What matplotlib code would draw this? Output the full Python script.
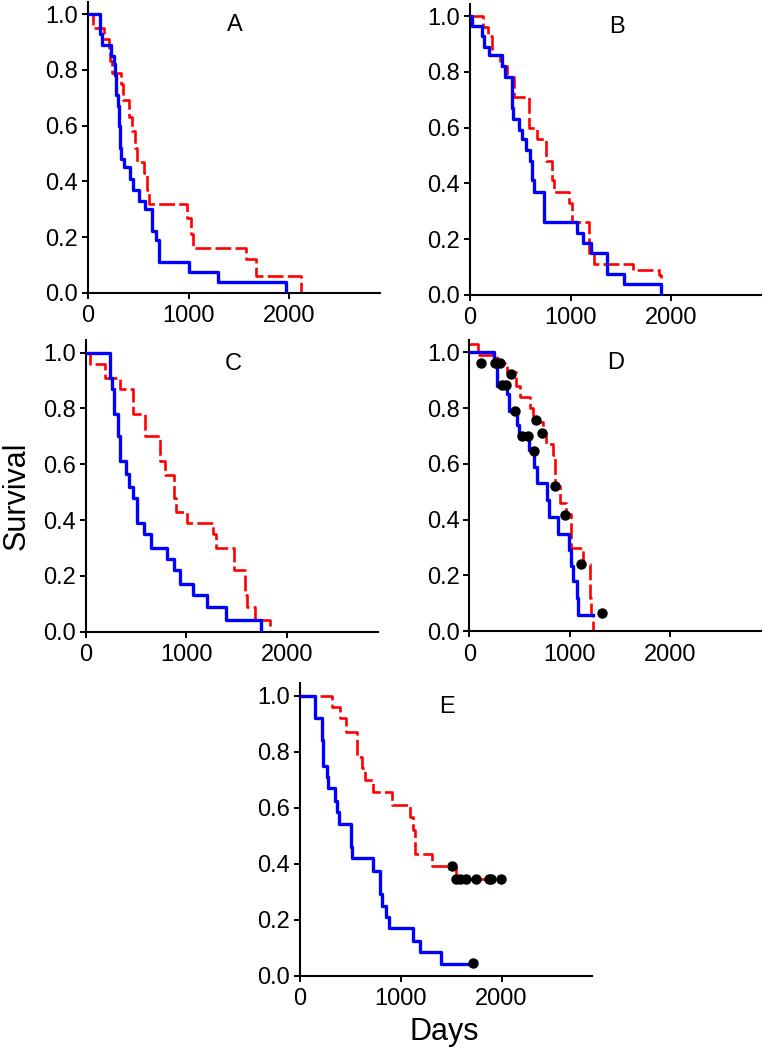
import matplotlib
matplotlib.use("Agg")
import matplotlib.pyplot as plt

plt.rcParams["font.family"] = ["Liberation Sans", "DejaVu Sans"]

# ── Data (days, survival fraction) ────────────────────────────────────────────

A_blue_t = [0, 117, 143, 230, 257, 267, 283, 297, 310, 323, 333, 357, 423, 450, 513,
            567, 633, 680, 707, 1000, 1290, 1963]
A_blue_s = [1.0, 0.93, 0.89, 0.85, 0.82, 0.78, 0.71, 0.67, 0.60, 0.52, 0.48, 0.45, 0.41,
            0.37, 0.33, 0.30, 0.22, 0.19, 0.11, 0.074, 0.037, 0.0]
A_red_t = [0, 57, 157, 207, 223, 240, 333, 350, 407, 440, 473, 490, 557, 590, 607, 983,
           1023, 1047, 1573, 1673, 2117]
A_red_s = [1.0, 0.95, 0.91, 0.87, 0.83, 0.79, 0.75, 0.69, 0.63, 0.58, 0.52, 0.47, 0.43,
           0.37, 0.32, 0.27, 0.21, 0.16, 0.12, 0.06, 0.0]

B_blue_t = [0, 23, 123, 143, 190, 317, 350, 417, 427, 483, 517, 560, 593, 617, 633, 740,
            1060, 1127, 1207, 1367, 1533, 1900]
B_blue_s = [1.0, 0.965, 0.93, 0.89, 0.86, 0.82, 0.78, 0.67, 0.63, 0.59, 0.56, 0.52, 0.48,
            0.41, 0.37, 0.26, 0.22, 0.185, 0.15, 0.074, 0.037, 0.0]
B_red_t = [0, 133, 183, 217, 300, 367, 433, 585, 667, 760, 817, 833, 983, 1017, 1183,
           1233, 1617, 1883, 1900]
B_red_s = [1.0, 0.96, 0.93, 0.86, 0.82, 0.78, 0.71, 0.60, 0.56, 0.48, 0.41, 0.37, 0.33,
           0.26, 0.15, 0.11, 0.09, 0.07, 0.06]

C_blue_t = [0, 243, 260, 283, 317, 337, 403, 430, 470, 510, 577, 650, 803, 877, 933, 1067,
            1200, 1393, 1737]
C_blue_s = [1.0, 0.91, 0.87, 0.78, 0.70, 0.61, 0.565, 0.52, 0.48, 0.39, 0.35, 0.30, 0.26,
            0.22, 0.17, 0.13, 0.087, 0.043, 0.0]
C_red_t = [0, 43, 193, 343, 470, 593, 737, 783, 877, 893, 1010, 1260, 1293, 1470, 1577,
           1600, 1677, 1827]
C_red_s = [1.0, 0.96, 0.91, 0.87, 0.78, 0.70, 0.61, 0.56, 0.48, 0.43, 0.39, 0.35, 0.30,
           0.22, 0.13, 0.087, 0.043, 0.0]

D_blue_t = [0, 245, 278, 371, 394, 477, 497, 596, 646, 675, 775, 795, 884, 993, 1010,
            1033, 1073, 1086, 1232]
D_blue_s = [1.0, 0.96, 0.88, 0.85, 0.79, 0.74, 0.70, 0.65, 0.59, 0.53, 0.47, 0.41, 0.35,
            0.29, 0.235, 0.18, 0.12, 0.06, 0.06]
D_red_t = [0, 89, 272, 371, 470, 503, 603, 636, 735, 762, 834, 851, 900, 967, 1017, 1132,
           1199, 1215, 1232]
D_red_s = [1.03, 0.99, 0.96, 0.93, 0.88, 0.84, 0.80, 0.75, 0.71, 0.67, 0.63, 0.52, 0.46,
           0.42, 0.30, 0.24, 0.12, 0.06, 0.0]
D_cens_t = [113, 255, 278, 305, 321, 364, 411, 457, 523, 586, 649, 669, 725, 854, 957,
            1116, 1325]
D_cens_s = [0.962, 0.962, 0.962, 0.962, 0.883, 0.883, 0.923, 0.791, 0.698, 0.698, 0.645,
            0.756, 0.710, 0.521, 0.418, 0.240, 0.064]

E_blue_t = [0, 149, 215, 231, 271, 281, 347, 363, 386, 502, 518, 726, 792, 818, 858, 884,
            1122, 1188, 1403, 1716]
E_blue_s = [1.0, 0.92, 0.84, 0.75, 0.71, 0.67, 0.625, 0.585, 0.54, 0.46, 0.42, 0.375,
            0.29, 0.25, 0.21, 0.17, 0.125, 0.083, 0.042, 0.042]
E_red_t = [0, 314, 396, 455, 568, 611, 644, 726, 908, 1089, 1122, 1139, 1314, 1551, 1997]
E_red_s = [1.0, 0.96, 0.92, 0.87, 0.78, 0.74, 0.70, 0.655, 0.61, 0.565, 0.52, 0.435,
           0.39, 0.345, 0.345]
E_cens_t = [1508, 1545, 1584, 1650, 1743, 1875, 1898, 1997, 1716]
E_cens_s = [0.392, 0.345, 0.345, 0.345, 0.345, 0.345, 0.345, 0.345, 0.046]

panels = [
    ("A", [0.115, 0.7212, 0.383, 0.2773], A_blue_t, A_blue_s, A_red_t, A_red_s, [], []),
    ("B", [0.616, 0.7193, 0.382, 0.2773], B_blue_t, B_blue_s, B_red_t, B_red_s, [], []),
    ("C", [0.1123, 0.3984, 0.383, 0.2777], C_blue_t, C_blue_s, C_red_t, C_red_s, [], []),
    ("D", [0.615, 0.3988, 0.382, 0.2777], D_blue_t, D_blue_s, D_red_t, D_red_s, D_cens_t, D_cens_s),
    ("E", [0.3932, 0.0708, 0.383, 0.2787], E_blue_t, E_blue_s, E_red_t, E_red_s, E_cens_t, E_cens_s),
]

fig = plt.figure(figsize=(7.63, 10.5), dpi=100)

for label, pos, bt, bs, rt, rs, ct, cs in panels:
    ax = fig.add_axes(pos)
    ax.step(bt, bs, where="post", color="#0000FF", lw=2.4, zorder=3)
    ax.step(rt, rs, where="post", color="#FF0000", lw=1.9, ls=(0, (6, 1.6)), zorder=2)
    if ct:
        ax.plot(ct, cs, "o", color="black", ms=6.5, zorder=4)
    ax.set_xlim(0, 2900)
    ax.set_ylim(0, 1.045)
    ax.set_xticks([0, 1000, 2000])
    ax.set_yticks([0, 0.2, 0.4, 0.6, 0.8, 1.0])
    ax.set_yticklabels(["0.0", "0.2", "0.4", "0.6", "0.8", "1.0"])
    ax.tick_params(labelsize=17, length=4, width=1.4, direction="out")
    ax.tick_params(axis="x", pad=5)
    ax.tick_params(axis="y", pad=3)
    for side in ("top", "right"):
        ax.spines[side].set_visible(False)
    for side in ("left", "bottom"):
        ax.spines[side].set_linewidth(1.5)
    ax.text(1460, 0.96, label, ha="center", va="center", fontsize=17)

fig.text(0.002, 0.528, "Survival", rotation=90, ha="left", va="center", fontsize=22)
fig.text(0.582, 0.003, "Days", ha="center", va="bottom", fontsize=22)

fig.savefig("out.png", dpi=100)
